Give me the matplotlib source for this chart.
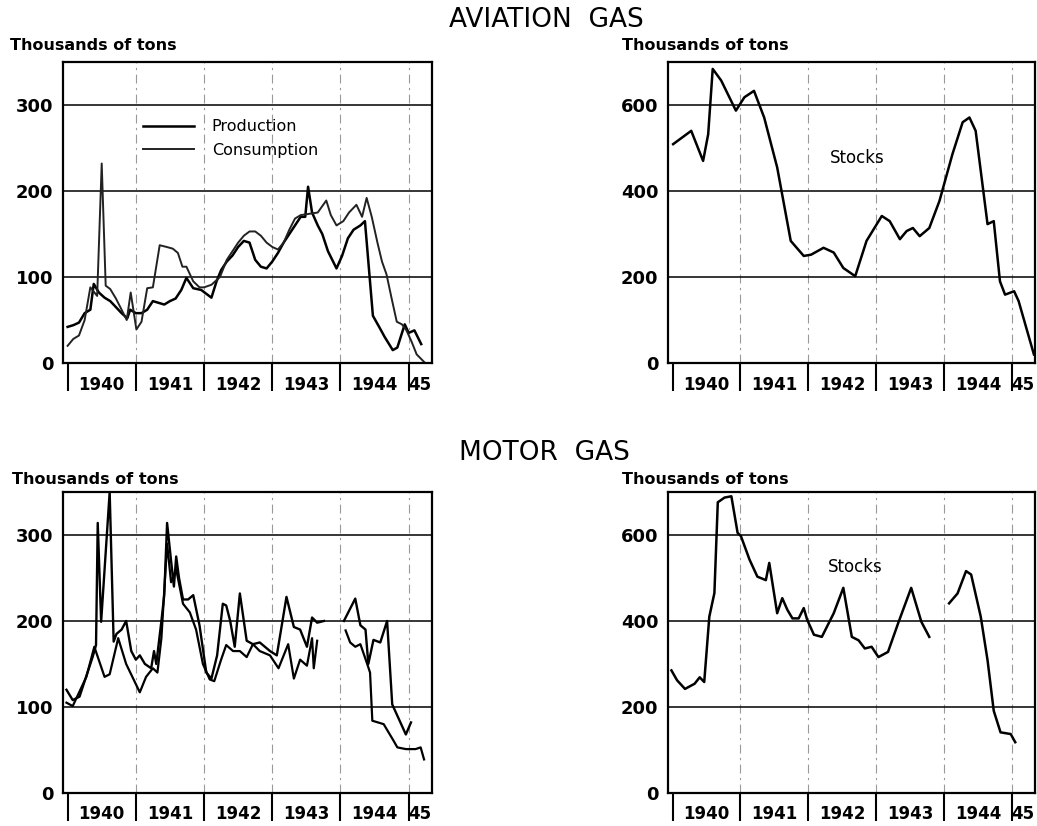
import numpy as np
import matplotlib
matplotlib.use("Agg")
import matplotlib.pyplot as plt

nan = np.nan

# months counted from Jan 1940 (0) ; values in thousands of tons
year_edges = [0, 12, 24, 36, 48, 60]
year_mid = [6, 18, 30, 42, 54, 62]
year_labels = ["1940", "1941", "1942", "1943", "1944", "45"]

# Aviation gas
avi_prod_m = [0, 1, 2, 3, 4, 4.6, 5.5, 6.5, 7.5, 8.5, 9.5, 10.5, 11, 12, 13, 14, 15, 16, 17, 18,
              19, 20, 20.9, 22.1, 23.5, 24.5, 25.3, 26.2, 27, 28, 29, 30, 31, 32, 33, 34, 35, 36,
              37, 38, 39, 40, 41, 41.8, 42.3, 43, 44, 44.8, 45.8, 47.3, 48.3, 49.3, 50.3, 51.5,
              52.3, 53.7, 54.8, 55.8, 57.2, 58, 59.3, 60, 61, 62.2]
avi_prod = [42, 44, 47, 58, 62, 92, 82, 76, 72, 65, 58, 52, 62, 58, 58, 62, 72, 70, 68, 72,
            75, 85, 99, 87, 85, 80, 76, 95, 108, 118, 125, 135, 142, 140, 120, 112, 110, 118,
            128, 140, 150, 160, 170, 170, 205, 175, 160, 150, 130, 110, 125, 145, 155, 160,
            165, 55, 42, 30, 15, 18, 45, 35, 38, 22]

avi_cons_m = [0, 1, 2, 3, 4, 5.2, 6.0, 6.7, 7.5, 8.5, 9.5, 10.4, 11.1, 12.1, 13, 14, 15, 16.2,
              17.4, 18.5, 19.4, 20.2, 20.9, 22.1, 23.2, 24, 25.3, 26.8, 28, 29, 30, 31, 32, 33,
              34, 35, 36, 37, 38, 39, 40, 41, 42, 43, 44, 45.5, 46.3, 47.3, 48.5, 49.5, 50.8,
              51.8, 52.6, 53.5, 54.5, 55.3, 56.1, 57, 57.9, 58.8, 59.6, 60.5, 61.4, 62.9]
avi_cons = [20, 28, 32, 50, 88, 78, 232, 90, 86, 75, 62, 50, 82, 39, 48, 87, 88, 137,
            135, 133, 128, 112, 112, 95, 88, 88, 91, 100, 120, 130, 140, 148, 153, 153,
            148, 140, 135, 132, 140, 155, 168, 172, 173, 174, 175, 189, 172, 160, 165, 175, 184,
            170, 192, 170, 140, 118, 103, 75, 48, 45, 38, 25, 10, 0]

avi_stock_m = [0.1, 3.3, 5.4, 6.3, 7.1, 8.6, 11.2, 12.7, 14.4, 16.2, 18.5, 20.9, 23.2, 24.5,
               26.7, 28.5, 30.2, 32.3, 34.3, 37.0, 38.4, 40.2, 41.4, 42.5, 43.7, 45.4, 47.2,
               49.5, 51.3, 52.5, 53.6, 55.7, 56.8, 57.9, 58.8, 60.4, 61.2, 63.9]
avi_stock = [509, 540, 470, 532, 684, 657, 587, 618, 633, 571, 455, 284, 249, 252,
             268, 257, 221, 202, 284, 342, 330, 288, 307, 314, 295, 314, 377,
             486, 560, 571, 540, 323, 330, 190, 159, 167, 144, 20]

# Motor gas
mot_a_m = [-0.2, 0.9, 2.1, 4.4, 5.0, 5.3, 5.9, 7.4, 8.1, 8.6, 9.5, 10.3, 11.2, 12.0, 12.7,
           13.6, 14.7, 15.2, 15.6, 16.5, 17.0, 17.5, 18.2, 18.7, 19.1, 19.6, 20.3, 21.2, 22.1,
           23.2, 24.4, 25.3, 26.3, 27.3, 27.9, 28.6, 29.4, 30.3, 31.5, 32.6, 33.8, 35.6, 36.8,
           38.5, 39.8, 40.9, 42.1, 43.0, 43.9, 45.1, 47.0, 48.6, 50.6, 51.5, 52.4, 52.9, 53.8,
           55.0, 56.2, 57.1, 59.5, 60.4]
mot_a = [120, 108, 112, 158, 172, 314, 199, 350, 176, 185, 190, 200, 165, 155, 160,
         150, 145, 165, 150, 200, 230, 314, 270, 240, 275, 250, 225, 225, 230,
         195, 140, 133, 160, 220, 218, 200, 170, 232, 177, 173, 175, 165, 160,
         228, 193, 190, 170, 204, 198, 200, nan, 200, 226, 195, 190, 150, 178,
         175, 200, 103, 68, 82]

mot_b_m = [-0.2, 0.9, 3.3, 4.7, 6.5, 7.4, 8.9, 10.3, 12.7, 13.8, 15.0, 15.8, 16.5, 17.5,
           18.2, 19.1, 20.3, 21.5, 22.6, 23.8, 25.0, 25.8, 27.0, 27.9, 29.1, 30.3, 31.5,
           32.6, 33.8, 35.6, 37.1, 38.8, 39.8, 40.9, 42.1, 43.0, 43.3, 43.9, 47.0, 48.9,
           49.7, 50.6, 51.5, 52.7, 53.2, 53.6, 55.6, 57.4, 58.0, 59.5, 61.2, 62.1, 62.7]
mot_b = [105, 101, 135, 170, 135, 138, 180, 150, 117, 135, 145, 140, 180, 290,
         245, 260, 220, 210, 190, 150, 132, 130, 155, 172, 165, 165, 158,
         173, 165, 160, 145, 173, 133, 155, 148, 180, 145, 177, nan, 189,
         175, 170, 173, 150, 140, 84, 80, 60, 53, 51, 51, 53, 39]

mot_stock_m = [-0.2, 0.8, 2.2, 3.9, 4.8, 5.6, 6.5, 7.4, 8.0, 9.2, 10.4, 11.5, 12.1, 13.6,
               15.0, 16.5, 17.1, 18.5, 19.4, 20.3, 21.2, 22.3, 23.2, 23.8, 25.0, 26.4, 28.5,
               30.2, 31.7, 32.9, 34.0, 35.2, 36.4, 38.1, 39.9, 42.2, 44.0, 45.4, 47.0, 48.9,
               50.4, 51.9, 52.8, 54.5, 55.7, 56.8, 58.0, 59.8, 60.6]
mot_stock = [285, 262, 242, 254, 269, 258, 410, 465, 676, 687, 690, 605, 597, 543,
             503, 495, 535, 418, 453, 426, 406, 406, 430, 403, 368, 363, 418,
             477, 363, 355, 336, 340, 316, 328, 395, 477, 398, 363, nan, 441,
             464, 516, 508, 410, 309, 191, 141, 137, 118]

plt.rcParams["font.family"] = ["DejaVu Sans"]

fig = plt.figure(figsize=(10.37, 8.26), dpi=100)
fig.patch.set_facecolor("white")

ax_tl = fig.add_axes([0.0608, 0.5605, 0.3558, 0.3644])
ax_tr = fig.add_axes([0.6442, 0.5605, 0.3539, 0.3644])
ax_bl = fig.add_axes([0.0608, 0.0400, 0.3558, 0.3644])
ax_br = fig.add_axes([0.6442, 0.0400, 0.3539, 0.3644])


def style(ax, ymax, ystep):
    ax.set_xlim(-0.8, 64.1)
    ax.set_ylim(0, ymax)
    ax.set_yticks(np.arange(0, ymax, ystep))
    ax.tick_params(axis="y", length=0, pad=7, labelsize=13)
    for t in ax.get_yticklabels():
        t.set_fontweight("bold")
    ax.set_xticks(year_mid)
    ax.set_xticklabels(year_labels, fontsize=12, fontweight="bold")
    ax.set_xticks(year_edges, minor=True)
    ax.tick_params(axis="x", which="major", length=0, pad=9)
    ax.tick_params(axis="x", which="minor", length=20, width=1.5, direction="out")
    ax.grid(axis="y", color="black", lw=1.1)
    for e in year_edges[1:]:
        ax.axvline(e, color="0.6", lw=0.8, ls=(0, (8, 4, 2, 4)), zorder=0)
    for s in ax.spines.values():
        s.set_linewidth(1.6)
    ax.set_axisbelow(True)


for ax in (ax_tl, ax_bl):
    style(ax, 350, 100)
for ax in (ax_tr, ax_br):
    style(ax, 700, 200)

# Aviation gas
ax_tl.plot(avi_prod_m, avi_prod, color="black", lw=1.8, label="Production")
ax_tl.plot(avi_cons_m, avi_cons, color="#222222", lw=1.4, label="Consumption")
ax_tl.legend(frameon=False, loc="upper left", bbox_to_anchor=(0.217, 0.81),
             borderaxespad=0, borderpad=0, handlelength=3.2, handletextpad=1.1,
             labelspacing=0.55, fontsize=11.5)

ax_tr.plot(avi_stock_m, avi_stock, color="black", lw=1.8)
ax_tr.text(0.515, 0.68, "Stocks", transform=ax_tr.transAxes, ha="center", va="center",
           fontsize=12)

# Motor gas
ax_bl.plot(mot_a_m, mot_a, color="black", lw=1.7)
ax_bl.plot(mot_b_m, mot_b, color="black", lw=1.6)

ax_br.plot(mot_stock_m, mot_stock, color="black", lw=1.8)
ax_br.text(0.51, 0.75, "Stocks", transform=ax_br.transAxes, ha="center", va="center",
           fontsize=12)

# titles and units
fig.text(0.527, 0.976, "AVIATION  GAS", ha="center", va="center", fontsize=19)
fig.text(0.525, 0.452, "MOTOR  GAS", ha="center", va="center", fontsize=19)
for x, y in [(0.01, 0.945), (0.60, 0.945), (0.012, 0.419), (0.60, 0.419)]:
    fig.text(x, y, "Thousands of tons", ha="left", va="center", fontsize=11.5,
             fontweight="bold")

fig.savefig("out.png", dpi=100)
